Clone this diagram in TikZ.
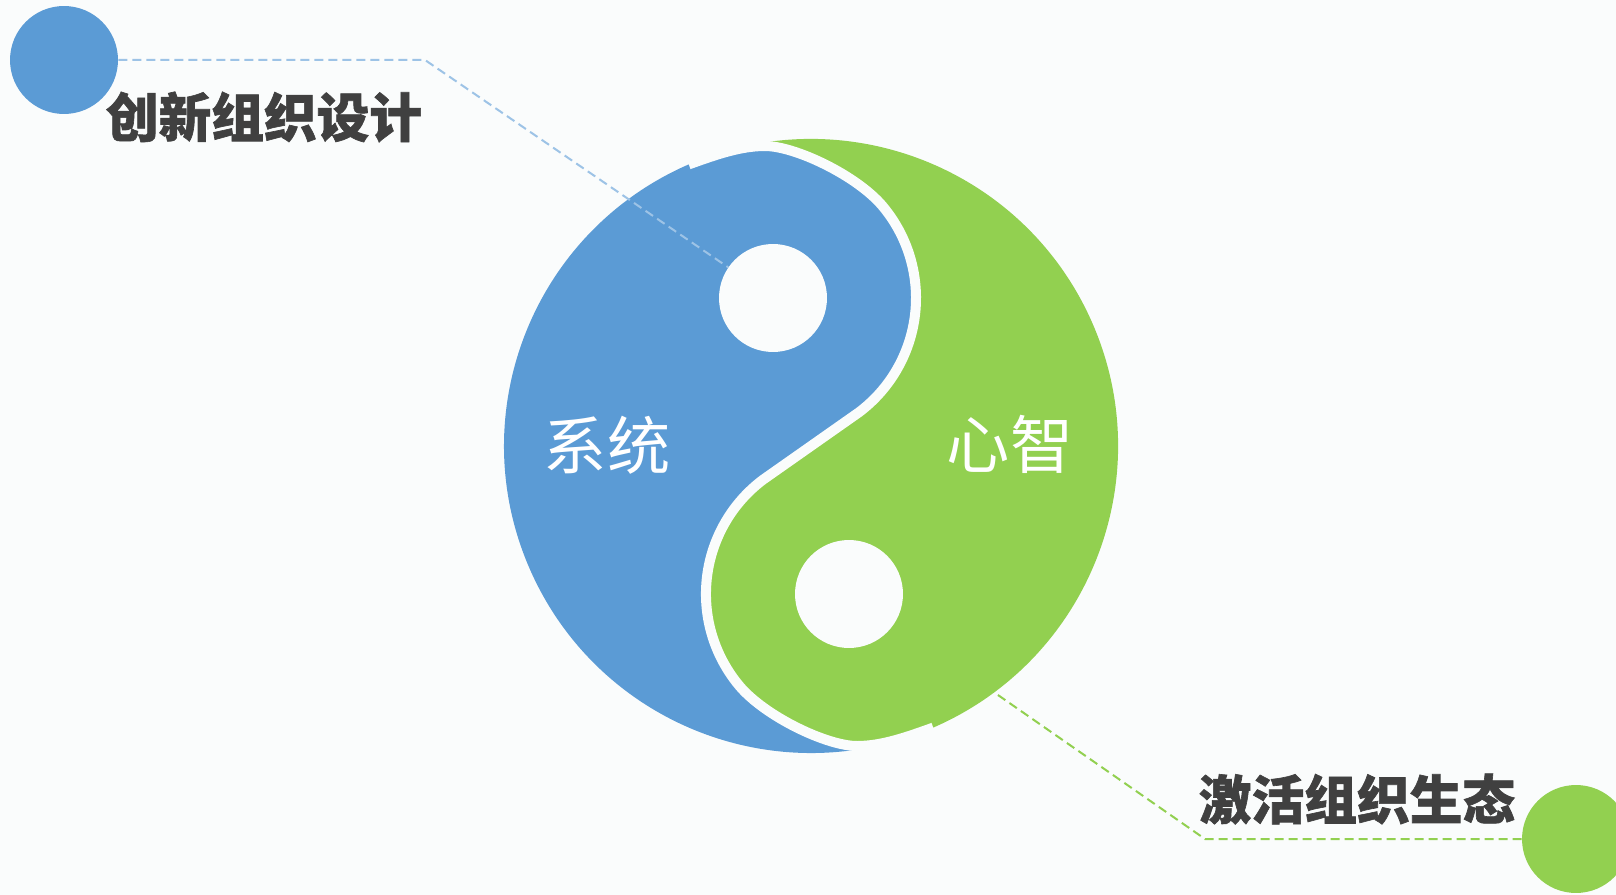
\documentclass[tikz,border=0pt]{standalone}
\usepackage{fontspec}
\newfontfamily\cjk{Noto Sans CJK SC}
\newfontfamily\cjkheavy{Noto Sans CJK SC}[BoldFeatures={FakeBold=1.2}]
\definecolor{yyblue}{HTML}{5B9BD5}
\definecolor{yygreen}{HTML}{92D050}
\definecolor{lblue}{HTML}{9DC3E6}
\definecolor{bgc}{HTML}{FAFCFC}
\definecolor{txt}{HTML}{404040}
\begin{document}
\begin{tikzpicture}[x=0.02cm,y=-0.02cm,
  dot/.style={circle,inner sep=0pt,minimum size=2.16cm},
  eye/.style={circle,inner sep=0pt,minimum size=2.16cm,fill=bgc},
  title/.style={inner sep=0pt,text=txt,font=\cjkheavy\bfseries\fontsize{30}{36}\selectfont},
  inlabel/.style={inner sep=0pt,text=white,font=\cjk\fontsize{36}{42}\selectfont},
  bdash/.style={draw=lblue,line width=0.04cm,dash pattern=on 0.18cm off 0.1cm},
  gdash/.style={draw=yygreen,line width=0.04cm,dash pattern=on 0.18cm off 0.1cm},
  gap/.style={draw=bgc,line width=0.2cm}]
\useasboundingbox (0,0) rectangle (1616,895);
\fill[bgc] (0,0) rectangle (1616,895);
% green connector (behind shapes)
\node[dot,fill=yygreen] (c2) at (1576,839) {};
\coordinate (k2) at (1205,839);
\coordinate (g2) at (985,686);
\draw[gdash] (c2.west) -- (k2) -- (g2);
% blue part
\fill[yyblue] (688.8,164.4) .. controls (715,155) and (740,146) .. (765,146)
  .. controls (795,146) and (856.8,175.5) .. (882.55,206.08)
  arc[start angle=-40, end angle=53, radius=143] -- (762.9,479.8)
  arc[start angle=233, end angle=140, radius=143]
  .. controls (765.2,716.5) and (827,746) .. (857,746)
  .. controls (882,746) and (907,737) .. (933.2,727.6)
  arc[start angle=66.55, end angle=246.55, radius=307] -- cycle;
% green part
\fill[yygreen] (688.8,164.4) .. controls (715,155) and (740,146) .. (765,146)
  .. controls (795,146) and (856.8,175.5) .. (882.55,206.08)
  arc[start angle=-40, end angle=53, radius=143] -- (762.9,479.8)
  arc[start angle=233, end angle=140, radius=143]
  .. controls (765.2,716.5) and (827,746) .. (857,746)
  .. controls (882,746) and (907,737) .. (933.2,727.6)
  arc[start angle=66.55, end angle=-113.45, radius=307] -- cycle;
% gap
\draw[gap] (688.8,164.4) .. controls (715,155) and (740,146) .. (765,146)
  .. controls (795,146) and (856.8,175.5) .. (882.55,206.08)
  arc[start angle=-40, end angle=53, radius=143] -- (762.9,479.8)
  arc[start angle=233, end angle=140, radius=143]
  .. controls (765.2,716.5) and (827,746) .. (857,746)
  .. controls (882,746) and (907,737) .. (933.2,727.6);
% eyes
\node[eye] (e1) at (773,298) {};
\node[eye] (e2) at (849,594) {};
% labels
\node[inlabel] (l1) at (607,445) {系统};
\node[inlabel] (l2) at (1010,444) {心智};
% blue connector
\node[dot,fill=yyblue] (c1) at (64,60) {};
\coordinate (k1) at (425,60);
\draw[bdash] (c1.east) -- (k1) -- (e1);
% titles
\node[title] (t1) at (264,117) {创新组织设计};
\node[title] (t2) at (1357,799) {激活组织生态};
\end{tikzpicture}
\end{document}
